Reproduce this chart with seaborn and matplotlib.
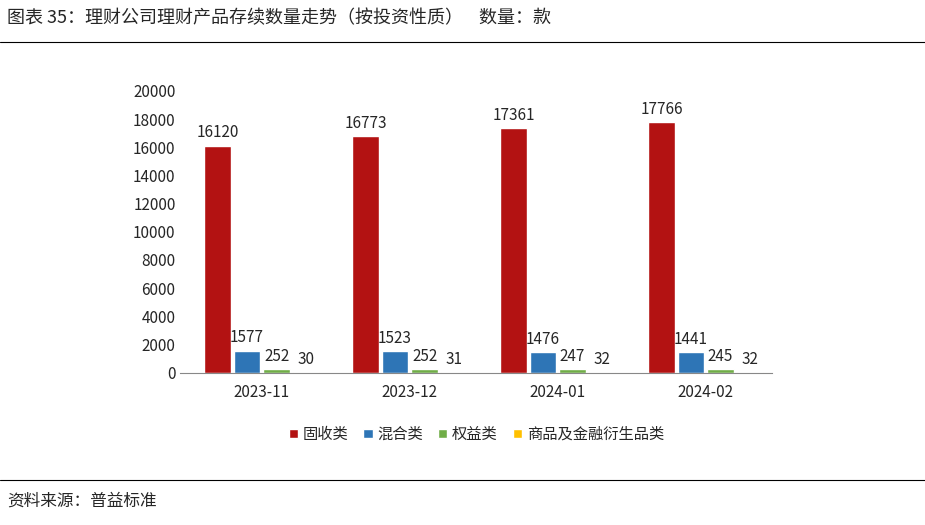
import matplotlib.pyplot as plt
import numpy as np
import pandas as pd
import seaborn as sns

sns.set_style('white')
plt.rcParams['font.family'] = ['Noto Sans CJK SC']
plt.rcParams['font.sans-serif'] = ['Noto Sans CJK SC', 'DejaVu Sans']

# data
months = ['2023-11', '2023-12', '2024-01', '2024-02']
series = ['固收类', '混合类', '权益类', '商品及金融衍生品类']
fixed = [16120, 16773, 17361, 17766]
mixed = [1577, 1523, 1476, 1441]
equity = [252, 252, 247, 245]
commod = [30, 31, 32, 32]
colors = ['#B31212', '#2E75B6', '#70AD47', '#FFC000']

df = pd.DataFrame({
    'month': months * 4,
    'type': [s for s in series for _ in months],
    'count': fixed + mixed + equity + commod,
})

fig = plt.figure(figsize=(9.25, 5.25), dpi=100)
ax = fig.add_axes([0.195, 0.29, 0.64, 0.537])

sns.barplot(data=df, x='month', y='count', hue='type', palette=colors,
            width=0.8, gap=0.1, ax=ax, saturation=1, legend=True)
ax.set_xlim(-0.55, 3.45)

for cont in ax.containers:
    ax.bar_label(cont, fmt='%d', padding=3, fontsize=11)

ax.set_ylim(0, 20000)
ax.set_yticks(np.arange(0, 20001, 2000))
ax.tick_params(axis='both', labelsize=11, length=0)
ax.tick_params(axis='x', pad=8)
ax.set_xlabel('')
ax.set_ylabel('')
sns.despine(ax=ax, left=True)
ax.spines['bottom'].set_color('#888888')

ax.legend(loc='upper center', bbox_to_anchor=(0.5, -0.14), ncol=4, frameon=False,
          fontsize=11, handlelength=0.6, handleheight=0.6, columnspacing=1.0,
          handletextpad=0.3)

# title, rules, source
fig.text(0.008, 0.965, '图表 35：理财公司理财产品存续数量走势（按投资性质）    数量：款',
         fontsize=13, va='center', ha='left')
fig.add_artist(plt.Line2D([0, 1], [0.92, 0.92], color='black', lw=0.8))
fig.add_artist(plt.Line2D([0, 1], [0.085, 0.085], color='black', lw=0.8))
fig.text(0.008, 0.045, '资料来源：普益标准', fontsize=12, va='center', ha='left')

fig.savefig('out.png', dpi=100)
